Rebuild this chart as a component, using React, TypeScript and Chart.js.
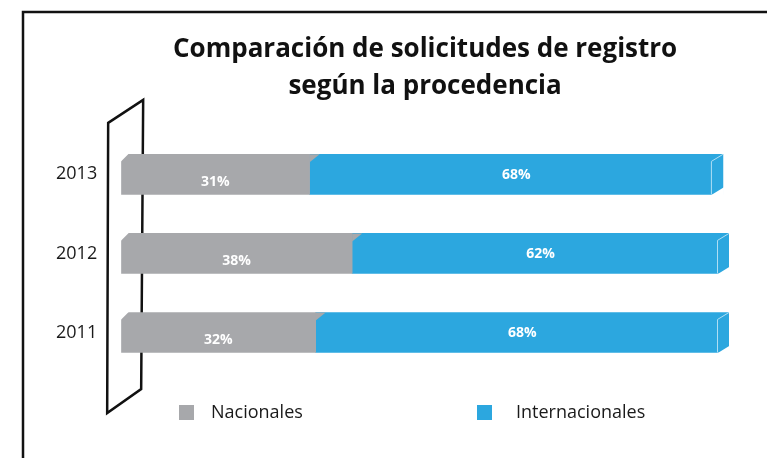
import React, { useEffect, useRef } from "react";
import { Chart, registerables } from "chart.js";

Chart.register(...registerables);

const years = ["2013", "2012", "2011"];
const nacionales = [31, 38, 32];
const internacionales = [68, 62, 68];
const seriesNames = ["Nacionales", "Internacionales"];
const titleLines = ["Comparación de solicitudes de registro", "según la procedencia"];

const GRAY = "#a7a8ab";
const BLUE = "#2ca7df";
const FONT = "'Open Sans', 'DejaVu Sans', sans-serif";

const decorPlugin = {
  id: "decor",
  beforeDraw(chart: any) {
    const ctx = chart.ctx;
    ctx.save();
    ctx.fillStyle = "#fff";
    ctx.fillRect(0, 0, chart.width, chart.height);
    // outer frame
    ctx.strokeStyle = "#111";
    ctx.lineWidth = 2.5;
    ctx.strokeRect(23, 12, chart.width + 20, chart.height + 20);
    ctx.restore();
  },
  beforeDatasetsDraw(chart: any) {
    const ctx = chart.ctx;
    const a = chart.chartArea;
    ctx.save();
    ctx.strokeStyle = "#111";
    ctx.lineWidth = 2.5;
    ctx.lineJoin = "miter";
    ctx.beginPath();
    ctx.moveTo(a.left - 13, a.top - 12);
    ctx.lineTo(a.left + 22, a.top - 35);
    ctx.lineTo(a.left + 20, a.bottom + 17);
    ctx.lineTo(a.left - 14, a.bottom + 41);
    ctx.closePath();
    ctx.stroke();
    ctx.restore();
  },
  afterDatasetsDraw(chart: any) {
    const ctx = chart.ctx;
    const m0 = chart.getDatasetMeta(0);
    const m1 = chart.getDatasetMeta(1);
    ctx.save();
    m0.data.forEach((bar: any, i: number) => {
      const p0 = bar.getProps(["x", "y", "base", "height"], true);
      const p1 = m1.data[i].getProps(["x", "y", "base", "height"], true);
      const top = p0.y - p0.height / 2;
      const bottom = p0.y + p0.height / 2;
      const tri = (pts: number[][], color: string) => {
        ctx.fillStyle = color;
        ctx.beginPath();
        ctx.moveTo(pts[0][0], pts[0][1]);
        ctx.lineTo(pts[1][0], pts[1][1]);
        ctx.lineTo(pts[2][0], pts[2][1]);
        ctx.closePath();
        ctx.fill();
      };
      tri([[p0.base - 1, top - 1], [p0.base + 8, top - 1], [p0.base - 1, top + 8]], "#fff");
      tri([[p1.base, top], [p1.base + 10, top], [p1.base, top + 8]], GRAY);
      tri([[p1.x + 1, bottom + 1], [p1.x - 12, bottom + 1], [p1.x + 1, bottom - 7]], "#fff");
      ctx.strokeStyle = "rgba(190,228,246,0.9)";
      ctx.lineWidth = 1;
      ctx.beginPath();
      ctx.moveTo(p1.x - 11.5, bottom);
      ctx.lineTo(p1.x - 11.5, top + 7);
      ctx.lineTo(p1.x, top);
      ctx.stroke();

      ctx.fillStyle = "#fff";
      ctx.font = `bold 14px ${FONT}`;
      ctx.textAlign = "center";
      ctx.textBaseline = "middle";
      ctx.fillText(nacionales[i] + "%", (p0.base + p0.x) / 2, p0.y + 8);
      ctx.fillText(internacionales[i] + "%", (p1.base + p1.x) / 2, p1.y + 1);
    });
    ctx.restore();
  },
  afterDraw(chart: any) {
    const ctx = chart.ctx;
    const ds = chart.data.datasets;
    const pos = [
      { box: 179, text: 211 },
      { box: 477, text: 516 },
    ];
    ctx.save();
    ctx.font = `18px ${FONT}`;
    ctx.textBaseline = "middle";
    ctx.textAlign = "left";
    ds.forEach((d: any, i: number) => {
      ctx.fillStyle = d.backgroundColor;
      ctx.fillRect(pos[i].box, 405, 15, 15);
      ctx.fillStyle = "#1a1a1a";
      ctx.fillText(d.label, pos[i].text, 413);
    });
    ctx.restore();
  },
};

export default function App() {
  const ref = useRef<HTMLCanvasElement>(null);
  useEffect(() => {
    const chart = new Chart(ref.current as HTMLCanvasElement, {
      type: "bar",
      data: {
        labels: years,
        datasets: [
          { label: seriesNames[0], data: nacionales, backgroundColor: GRAY, barThickness: 40, borderWidth: 0 },
          { label: seriesNames[1], data: internacionales, backgroundColor: BLUE, barThickness: 40, borderWidth: 0 },
        ],
      },
      options: {
        indexAxis: "y",
        responsive: false,
        animation: false,
        layout: { padding: { left: 32, right: 38, top: 10, bottom: 86 } },
        scales: {
          x: { stacked: true, min: 0, max: 100, display: false },
          y: {
            stacked: true,
            grid: { display: false, drawTicks: false },
            border: { display: false },
            ticks: { font: { family: FONT, size: 18 }, color: "#1a1a1a", padding: 24 },
          },
        },
        plugins: {
          legend: { display: false },
          tooltip: { enabled: false },
          title: {
            display: true,
            text: titleLines,
            fullSize: false,
            color: "#111",
            font: { family: FONT, size: 26, weight: "bold", lineHeight: 1.42 },
            padding: { top: 21, bottom: 30 },
          },
        },
      },
      plugins: [decorPlugin],
    } as any);
    return () => chart.destroy();
  }, []);
  return (
    <div style={{ position: "fixed", left: 0, top: 0, width: 767, height: 458 }}>
      <canvas ref={ref} width={767} height={458} />
    </div>
  );
}
